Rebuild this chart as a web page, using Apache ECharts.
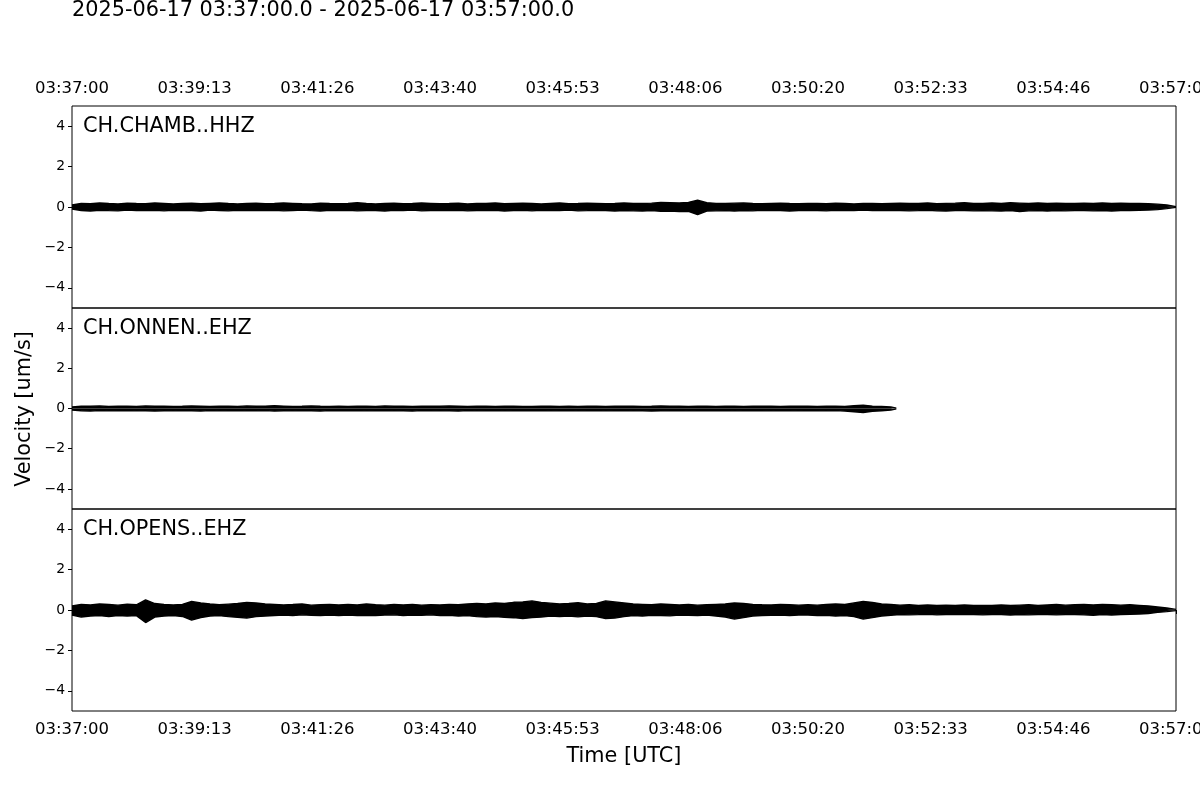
<!DOCTYPE html>
<html>
<head>
<meta charset="utf-8">
<script src="https://cdn.jsdelivr.net/npm/echarts@6/dist/echarts.min.js"></script>
<style>
html,body{margin:0;padding:0;background:#fff;}
#main{width:1200px;height:800px;}
</style>
</head>
<body>
<div id="main"></div>
<script>
// ---- data ----
const windowTitle = '2025-06-17 03:37:00.0 - 2025-06-17 03:57:00.0';
const stations = ['CH.CHAMB..HHZ', 'CH.ONNEN..EHZ', 'CH.OPENS..EHZ'];
const yTitle = 'Velocity [um/s]';
const xTitle = 'Time [UTC]';
const tickSeconds = [0, 133.33, 266.67, 400, 533.33, 666.67, 800, 933.33, 1066.67, 1200];
const tickLabels = ['03:37:00','03:39:13','03:41:26','03:43:40','03:45:53','03:48:06','03:50:20','03:52:33','03:54:46','03:57:00'];
const yTicks = [-4, -2, 0, 2, 4];
const sampleStep = 10; // seconds between envelope samples

// envelope (max / min velocity, um/s) every 10 s
const chambUp = [0.1,0.18,0.16,0.2,0.17,0.15,0.19,0.17,0.16,0.2,
  0.18,0.15,0.17,0.19,0.16,0.18,0.2,0.17,0.15,0.18,
  0.19,0.16,0.17,0.2,0.18,0.16,0.15,0.19,0.17,0.16,
  0.18,0.21,0.17,0.15,0.18,0.19,0.16,0.17,0.2,0.18,
  0.16,0.17,0.19,0.15,0.18,0.17,0.2,0.16,0.18,0.19,
  0.17,0.15,0.18,0.2,0.16,0.17,0.19,0.18,0.16,0.17,
  0.2,0.18,0.17,0.19,0.22,0.21,0.2,0.23,0.34,0.21,
  0.18,0.17,0.19,0.2,0.17,0.16,0.18,0.19,0.17,0.16,
  0.17,0.18,0.16,0.19,0.17,0.15,0.18,0.17,0.16,0.18,
  0.19,0.17,0.18,0.2,0.16,0.18,0.19,0.21,0.18,0.17,
  0.2,0.18,0.21,0.19,0.17,0.2,0.18,0.19,0.17,0.18,
  0.19,0.17,0.2,0.18,0.19,0.17,0.18,0.16,0.14,0.1,0.02];
const chambLo = [-0.1,-0.17,-0.2,-0.16,-0.18,-0.19,-0.15,-0.18,-0.17,-0.16,
  -0.19,-0.16,-0.17,-0.18,-0.2,-0.15,-0.17,-0.19,-0.16,-0.18,
  -0.17,-0.18,-0.16,-0.19,-0.17,-0.15,-0.18,-0.2,-0.16,-0.17,
  -0.16,-0.19,-0.18,-0.17,-0.2,-0.16,-0.18,-0.15,-0.19,-0.17,
  -0.18,-0.17,-0.16,-0.19,-0.17,-0.18,-0.16,-0.2,-0.17,-0.16,
  -0.19,-0.16,-0.18,-0.17,-0.15,-0.19,-0.18,-0.16,-0.17,-0.2,
  -0.17,-0.19,-0.2,-0.18,-0.21,-0.2,-0.22,-0.21,-0.38,-0.2,
  -0.19,-0.18,-0.2,-0.17,-0.19,-0.16,-0.18,-0.17,-0.2,-0.18,
  -0.18,-0.17,-0.19,-0.16,-0.18,-0.17,-0.15,-0.18,-0.16,-0.17,
  -0.17,-0.19,-0.18,-0.16,-0.19,-0.2,-0.18,-0.17,-0.19,-0.18,
  -0.19,-0.2,-0.18,-0.22,-0.19,-0.18,-0.2,-0.17,-0.19,-0.18,
  -0.18,-0.19,-0.17,-0.2,-0.18,-0.17,-0.16,-0.15,-0.13,-0.08,-0.02];

const onnenEnd = 896; // seconds after window start where the ONNEN trace stops
const onnenUp = [0.08,0.12,0.11,0.13,0.1,0.12,0.11,0.1,0.13,0.11,
  0.12,0.1,0.11,0.13,0.12,0.1,0.11,0.12,0.1,0.13,
  0.11,0.12,0.14,0.12,0.1,0.11,0.13,0.11,0.1,0.12,
  0.1,0.12,0.11,0.1,0.13,0.11,0.12,0.1,0.11,0.12,
  0.11,0.13,0.12,0.1,0.11,0.12,0.1,0.11,0.12,0.1,
  0.1,0.11,0.12,0.1,0.11,0.1,0.12,0.11,0.1,0.11,
  0.11,0.12,0.1,0.11,0.13,0.12,0.11,0.1,0.12,0.11,
  0.1,0.11,0.12,0.1,0.11,0.12,0.11,0.1,0.11,0.12,
  0.11,0.1,0.12,0.11,0.1,0.14,0.16,0.12,0.1,0.08,0.02];
const onnenLo = [-0.08,-0.11,-0.13,-0.1,-0.12,-0.11,-0.1,-0.12,-0.11,-0.13,
  -0.11,-0.12,-0.1,-0.11,-0.13,-0.1,-0.12,-0.11,-0.1,-0.12,
  -0.12,-0.1,-0.13,-0.11,-0.12,-0.1,-0.11,-0.13,-0.1,-0.11,
  -0.11,-0.1,-0.12,-0.11,-0.1,-0.12,-0.11,-0.13,-0.1,-0.11,
  -0.12,-0.11,-0.13,-0.1,-0.12,-0.11,-0.1,-0.12,-0.11,-0.1,
  -0.11,-0.1,-0.12,-0.11,-0.1,-0.12,-0.11,-0.1,-0.12,-0.11,
  -0.1,-0.12,-0.11,-0.13,-0.12,-0.11,-0.1,-0.12,-0.11,-0.1,
  -0.11,-0.1,-0.12,-0.11,-0.1,-0.11,-0.12,-0.1,-0.11,-0.12,
  -0.1,-0.11,-0.12,-0.1,-0.13,-0.16,-0.2,-0.14,-0.11,-0.08,-0.02];

const opensUp = [0.2,0.28,0.25,0.3,0.27,0.24,0.29,0.26,0.5,0.32,
  0.27,0.25,0.28,0.42,0.35,0.3,0.26,0.29,0.32,0.38,
  0.35,0.3,0.28,0.25,0.27,0.3,0.24,0.26,0.28,0.25,
  0.27,0.25,0.3,0.26,0.24,0.27,0.25,0.28,0.24,0.26,
  0.25,0.28,0.26,0.3,0.32,0.3,0.35,0.33,0.38,0.4,
  0.45,0.38,0.34,0.3,0.32,0.36,0.3,0.33,0.45,0.4,
  0.35,0.3,0.28,0.26,0.3,0.28,0.25,0.27,0.24,0.26,
  0.28,0.3,0.35,0.32,0.28,0.26,0.25,0.27,0.26,0.24,
  0.26,0.24,0.28,0.3,0.27,0.35,0.42,0.38,0.3,0.27,
  0.24,0.26,0.22,0.25,0.23,0.24,0.22,0.25,0.23,0.22,
  0.23,0.25,0.22,0.24,0.26,0.23,0.25,0.27,0.24,0.26,
  0.27,0.25,0.28,0.26,0.24,0.26,0.23,0.2,0.15,0.1,0.03];
const opensLo = [-0.25,-0.35,-0.3,-0.28,-0.32,-0.27,-0.3,-0.28,-0.62,-0.35,
  -0.3,-0.27,-0.32,-0.5,-0.38,-0.3,-0.28,-0.33,-0.36,-0.4,
  -0.33,-0.3,-0.27,-0.25,-0.28,-0.24,-0.26,-0.27,-0.25,-0.28,
  -0.25,-0.27,-0.26,-0.28,-0.25,-0.24,-0.27,-0.25,-0.26,-0.24,
  -0.27,-0.26,-0.3,-0.28,-0.33,-0.35,-0.32,-0.36,-0.38,-0.42,
  -0.38,-0.35,-0.3,-0.32,-0.3,-0.34,-0.3,-0.33,-0.42,-0.4,
  -0.33,-0.28,-0.3,-0.26,-0.27,-0.29,-0.25,-0.26,-0.27,-0.25,
  -0.3,-0.35,-0.45,-0.38,-0.3,-0.28,-0.26,-0.25,-0.27,-0.25,
  -0.25,-0.27,-0.26,-0.3,-0.28,-0.33,-0.45,-0.38,-0.3,-0.26,
  -0.22,-0.24,-0.23,-0.21,-0.24,-0.22,-0.23,-0.21,-0.22,-0.24,
  -0.22,-0.23,-0.25,-0.22,-0.24,-0.23,-0.22,-0.24,-0.23,-0.22,
  -0.24,-0.26,-0.23,-0.25,-0.22,-0.21,-0.2,-0.17,-0.12,-0.08,-0.03];

// ---- build ----
const FONT = '"DejaVu Sans", "Liberation Sans", sans-serif';
function times(n, endT) {
  const t = [];
  for (let i = 0; i < n; i++) t.push(i * sampleStep);
  if (endT !== undefined) t[n - 1] = endT;
  return t;
}
const traces = [
  {up: chambUp, lo: chambLo, t: times(chambUp.length)},
  {up: onnenUp, lo: onnenLo, t: times(onnenUp.length, onnenEnd)},
  {up: opensUp, lo: opensLo, t: times(opensUp.length)}
];

const L = 72, W = 1104;
const tops = [106, 308, 509];
const heights = [202, 201, 202];

const grids = tops.map((top, i) => ({
  left: L, top: top, width: W, height: heights[i],
  outerBoundsMode: 'none', containLabel: false,
  show: true, borderColor: '#000', borderWidth: 1, backgroundColor: 'transparent'
}));

function xLabelFmt(v) {
  let best = 0, d = Infinity;
  tickSeconds.forEach((s, i) => { if (Math.abs(s - v) < d) { d = Math.abs(s - v); best = i; } });
  return tickLabels[best];
}

const xAxes = [0, 1, 2].map(i => ({
  type: 'value', gridIndex: i, min: 0, max: 1200,
  position: i === 0 ? 'top' : 'bottom',
  splitLine: {show: false},
  axisLine: {show: false},
  axisTick: {show: i === 2, inside: false, length: 4, lineStyle: {color: '#000', width: 1}, customValues: tickSeconds},
  axisLabel: {show: i !== 1, customValues: tickSeconds, formatter: xLabelFmt, color: '#000',
    fontFamily: FONT, fontSize: 16.5, margin: i === 0 ? 9 : 10, hideOverlap: false},
  name: i === 2 ? xTitle : '', nameLocation: 'middle', nameGap: 35,
  nameTextStyle: {fontFamily: FONT, fontSize: 20.8, color: '#000'}
}));

const yAxes = [0, 1, 2].map(i => ({
  type: 'value', gridIndex: i, min: -5, max: 5,
  splitLine: {show: false},
  axisLine: {show: false},
  axisTick: {show: true, length: 4, lineStyle: {color: '#000', width: 1}, customValues: yTicks},
  axisLabel: {customValues: yTicks, color: '#000', fontFamily: FONT, fontSize: 13.9, margin: 7,
    formatter: v => (v < 0 ? '\u2212' + Math.abs(v) : String(v))}
}));

// upper envelope filled down to 0 and lower envelope filled up to 0 -> the trace band
const series = [];
traces.forEach((tr, i) => {
  ['up', 'lo'].forEach(key => {
    series.push({
      type: 'line', xAxisIndex: i, yAxisIndex: i,
      data: tr.t.map((t, k) => [t, tr[key][k]]),
      showSymbol: false, silent: true, animation: false,
      lineStyle: {color: '#000', width: 1.4},
      areaStyle: {color: '#000', opacity: 1, origin: 0}
    });
  });
});

const graphics = [
  {type: 'text', left: 72, top: 0, style: {text: windowTitle, font: '20.8px ' + FONT, fill: '#000'}},
  {type: 'text', x: 25, y: 409, rotation: Math.PI / 2,
    style: {text: yTitle, font: '20.8px ' + FONT, fill: '#000', align: 'center', verticalAlign: 'middle'}}
];
stations.forEach((s, i) => {
  graphics.push({type: 'text', left: 83, top: tops[i] + 10.5, style: {text: s, font: '20.8px ' + FONT, fill: '#000'}});
});

const chart = echarts.init(document.getElementById('main'), null, {renderer: 'canvas'});
chart.setOption({
  backgroundColor: '#fff',
  animation: false,
  grid: grids,
  xAxis: xAxes,
  yAxis: yAxes,
  series: series,
  graphic: graphics
});
</script>
</body>
</html>
